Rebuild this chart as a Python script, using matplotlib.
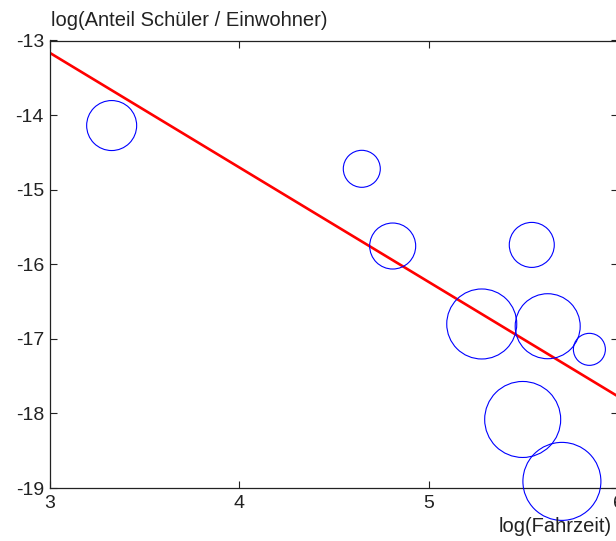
import matplotlib
matplotlib.use("Agg")
import numpy as np
import matplotlib.pyplot as plt

plt.rcParams['font.family'] = ['Liberation Sans', 'DejaVu Sans']

# log(Fahrzeit) and log(Anteil Schüler / Einwohner) per point
log_time = [3.328, 4.648, 4.811, 5.545, 5.281, 5.629, 5.849, 5.497, 5.704]
log_share = [-14.14, -14.72, -15.755, -15.74, -16.80, -16.83, -17.14, -18.08, -18.91]
# bubble diameter (px) of each point
bubble = [50, 37, 46, 45, 70, 65, 32, 76, 78]

# regression line
fit_intercept = -8.555
fit_slope = -1.536

x_ticks = [3, 4, 5, 6]
y_ticks = [-19, -18, -17, -16, -15, -14, -13]

W, H = 616, 541
fig = plt.figure(figsize=(W / 100, H / 100), dpi=100)
ax = fig.add_axes([49.5 / W, (H - 488.1) / H, (618 - 49.5) / W, (488.1 - 40.5) / H])

sizes = [(d * 0.72) ** 2 for d in bubble]
ax.scatter(log_time, log_share, s=sizes, facecolors='none', edgecolors='#0000ff',
           linewidths=0.8, clip_on=False, zorder=3)

xs = np.array([3, 6])
ax.plot(xs, fit_intercept + fit_slope * xs, color='#ff0000', lw=1.9, zorder=2)

ax.set_xlim(3, 6)
ax.set_ylim(-19, -13)
ax.set_xticks(x_ticks)
ax.set_yticks(y_ticks)
ax.set_xticklabels([str(t) for t in x_ticks])
ax.set_yticklabels(['-19', '-18', '-17', '-16', '-15', '-14', '-13'])
ax.tick_params(direction='in', length=5, width=0.8, top=True, right=True,
               labelsize=14, colors='#222222')
ax.tick_params(axis='x', pad=5)
ax.tick_params(axis='y', pad=4)
for s in ax.spines.values():
    s.set_color('#222222')
    s.set_linewidth(0.9)

fig.text(51 / W, 1 - 21 / H, 'log(Anteil Schüler / Einwohner)', fontsize=14.5,
         ha='left', va='center', color='#222222')
fig.text(612 / W, 1 - 527 / H, 'log(Fahrzeit)', fontsize=14.5,
         ha='right', va='center', color='#222222')

fig.savefig('out.png', dpi=100)
